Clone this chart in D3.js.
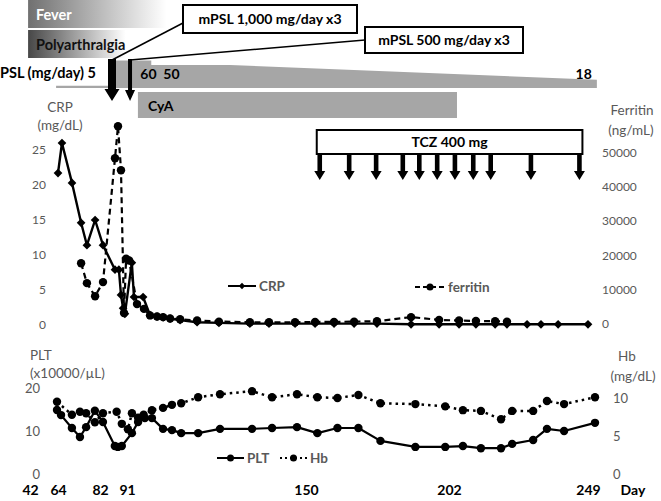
<!DOCTYPE html>
<html><head><meta charset="utf-8">
<script src="https://cdn.jsdelivr.net/npm/d3@7"></script>
<style>body{margin:0;background:#fff} svg{display:block;font-family:Lato,'Open Sans',sans-serif}</style>
</head><body><svg id="c" width="661" height="501"></svg>
<script>
// ---------- data ----------
const dayTicks = [42, 64, 82, 91, 150, 202, 249];
const crpTicks = [0, 5, 10, 15, 20, 25];
const ferTicks = [0, 10000, 20000, 30000, 40000, 50000];
const pltTicks = [0, 10, 20];
const hbTicks = [0, 5, 10];

const crpDays = [64, 65.7, 70, 73.9, 76.4, 79.9, 83, 87, 88.3, 89, 89.7, 90.3, 92.6, 93.3, 96.3, 98.6, 100.9, 102.9, 105.2, 108.5, 114.1, 121.3, 131.5, 137.8, 146.4, 153.3, 160.2, 167.5, 175.8, 188.2, 198.4, 205.4, 211.1, 217.6, 221.6, 228.4, 233.1, 238.9, 249];
const crpValues = [21.7, 26.0, 20.3, 14.6, 11.4, 15.0, 11.4, 7.9, 7.9, 4.3, 2.4, 1.6, 8.9, 4.0, 4.0, 1.4, 1.2, 1.1, 0.9, 0.7, 0.4, 0.3, 0.2, 0.2, 0.2, 0.2, 0.2, 0.2, 0.2, 0.1, 0.1, 0.1, 0.1, 0.1, 0.1, 0.1, 0.1, 0.1, 0.1];

const ferDays = [73.9, 76.4, 79.9, 83, 87, 88, 89, 90, 90.7, 91.7, 94.3, 96.6, 98.6, 100.9, 102.9, 105.2, 108.5, 114.1, 121.3, 131.5, 137.8, 146.4, 153.3, 160.2, 167.5, 175.8, 188.2, 198.4, 205.4, 211.1, 217.6, 221.6];
const ferValues = [17700, 11900, 8100, 12200, 48300, 57600, 44800, 3200, 19000, 18500, 5800, 4400, 2500, 2200, 2000, 1600, 1400, 1000, 700, 500, 500, 500, 600, 600, 700, 800, 2000, 1200, 1000, 900, 800, 700];

const pltDays = [64, 65.7, 70.3, 73.7, 76.3, 80, 83.1, 87, 88, 89.3, 92.6, 94.6, 96.8, 99.1, 102.7, 105.6, 108.6, 114.1, 121.2, 131.6, 138.1, 146.2, 153.1, 160.3, 167.8, 175.7, 188.2, 198.9, 205, 211, 217.7, 221.4, 228.4, 233, 238.7, 249];
const pltValues = [14.9, 13.7, 10.7, 8.6, 10.9, 14.7, 12.1, 6.5, 6.3, 6.5, 9.5, 12.1, 13.0, 13.0, 10.5, 10.2, 9.5, 9.5, 10.5, 10.5, 10.7, 10.9, 9.5, 10.7, 10.7, 7.7, 6.3, 6.3, 6.5, 6.0, 6.0, 7.0, 7.9, 10.5, 10.0, 11.9];

const hbDays = [64, 70.3, 73.7, 76.3, 80, 83.1, 87.6, 89.3, 91.3, 92.6, 94.6, 96.4, 99.1, 102.7, 105.6, 108.6, 114.1, 121.2, 131.6, 138.1, 146.2, 153.1, 160.3, 167.8, 175.7, 188.2, 198.9, 205, 211, 217.7, 221.4, 228.4, 233, 238.7, 249];
const hbValues = [9.5, 7.8, 8.2, 8.0, 6.8, 8.0, 8.2, 6.6, 5.9, 8.0, 7.4, 7.8, 8.4, 8.7, 9.1, 9.3, 10.1, 10.5, 10.9, 10.1, 10.5, 10.1, 10.0, 10.4, 9.3, 9.2, 8.9, 8.4, 8.3, 7.2, 8.3, 8.3, 9.6, 9.2, 10.1];

const symptomLabels = ["Fever", "Polyarthralgia"];
const symptomStart = [40.5, 40.5];
const symptomEnd = [104, 98.6];
const pslDays = [62.5, 87, 87, 99, 99, 125, 252];
const pslDoses = [5, 5, 60, 60, 50, 50, 18];
const cyaDays = [94.6, 204.7];
const mpslDays = [86, 92];
const mpslLabels = ["mPSL 1,000 mg/day x3", "mPSL 500 mg/day x3"];
const tczDays = [155, 165.7, 175.5, 185.2, 191.2, 197.7, 204, 210.2, 216.1, 229.7, 246.1];

// ---------- scales ----------
const svg = d3.select("#c");
svg.append("rect").attr("width", 661).attr("height", 501).attr("fill", "#fff");
const dayAnchors = [42, 64, 82, 91, 150, 202, 249];
const xTop = d3.scaleLinear().domain(dayAnchors).range([30, 58, 100, 127, 306, 449, 588]);
const xBot = d3.scaleLinear().domain(dayAnchors).range([28.6, 57, 99.6, 127, 308.7, 453.9, 595]);
const yCRP = d3.scaleLinear().domain([0, 30]).range([325, 115]);
const yFer = d3.scaleLinear().domain([0, 60000]).range([324, 118]);
const yPLT = d3.scaleLinear().domain([0, 25]).range([474, 366.5]);
const yHb = d3.scaleLinear().domain([0, 12]).range([474, 382.8]);
const yPSL = d3.scaleLinear().domain([0, 60]).range([88, 60.4]);

const grey = "#595959";
const zip = (a, b) => a.map((d, i) => ({ d, v: b[i] }));

// ---------- top annotations ----------
const defs = svg.append("defs");
const gradColors = [["#707070", 1.0], ["#474747", 0.8]];
gradColors.forEach((g, i) => {
  const lg = defs.append("linearGradient").attr("id", "g" + i);
  lg.append("stop").attr("offset", 0).attr("stop-color", g[0]);
  lg.append("stop").attr("offset", g[1]).attr("stop-color", "#fff");
});
symptomLabels.forEach((lab, i) => {
  const y0 = i === 0 ? 0 : 30;
  svg.append("rect").attr("x", xTop(symptomStart[i])).attr("y", y0)
    .attr("width", xTop(symptomEnd[i]) - xTop(symptomStart[i])).attr("height", 28)
    .attr("fill", `url(#g${i})`);
  svg.append("text").attr("x", 36).attr("y", y0 + 20).text(lab)
    .attr("font-size", 14.5).attr("font-weight", 700).attr("fill", i === 0 ? "#fff" : "#111");
});

// PSL
svg.append("text").attr("x", 0).attr("y", 78).text("PSL (mg/day) 5")
  .attr("font-size", 14.5).attr("font-weight", 700).attr("fill", "#000");
svg.append("path").datum(zip(pslDays, pslDoses))
  .attr("d", d3.area().x(p => xTop(p.d)).y0(yPSL(0)).y1(p => yPSL(p.v)))
  .attr("fill", "#a6a6a6");
svg.append("text").attr("x", xTop(pslDays[3]) - 11).attr("y", 79).text("60  50")
  .attr("font-size", 14).attr("font-weight", 700).attr("fill", "#000").attr("xml:space", "preserve");
svg.append("text").attr("x", xTop(pslDays[6]) - 5).attr("y", 79).attr("text-anchor", "end").text("18")
  .attr("font-size", 14).attr("font-weight", 700).attr("fill", "#000");

// CyA
svg.append("rect").attr("x", xTop(cyaDays[0])).attr("y", 92)
  .attr("width", xTop(cyaDays[1]) - xTop(cyaDays[0])).attr("height", 26).attr("fill", "#a6a6a6");
svg.append("text").attr("x", xTop(cyaDays[0]) + 10).attr("y", 111).text("CyA")
  .attr("font-size", 14).attr("font-weight", 700).attr("fill", "#000");

// mPSL boxes and arrows
const mBoxes = [{ x: 183, y: 5, w: 174, h: 28, lx: 183, ly: 23 }, { x: 365, y: 27, w: 158, h: 26, lx: 365, ly: 40 }];
mpslDays.forEach((d, i) => {
  const cx = xTop(d), b = mBoxes[i];
  svg.append("line").attr("x1", b.lx).attr("y1", b.ly).attr("x2", cx).attr("y2", 60)
    .attr("stroke", "#000").attr("stroke-width", 1.5);
  const sw = i === 0 ? 4 : 2, hw = i === 0 ? 7.5 : 5, hy = i === 0 ? 89 : 90;
  svg.append("path").attr("d", `M${cx - sw},59 L${cx + sw},59 L${cx + sw},${hy} L${cx + hw},${hy} L${cx},101 L${cx - hw},${hy} L${cx - sw},${hy} Z`)
    .attr("fill", "#000");
  svg.append("rect").attr("x", b.x).attr("y", b.y).attr("width", b.w).attr("height", b.h)
    .attr("fill", "#fff").attr("stroke", "#000").attr("stroke-width", 2);
  svg.append("text").attr("x", b.x + b.w / 2).attr("y", b.y + b.h / 2 + 5).attr("text-anchor", "middle")
    .text(mpslLabels[i]).attr("font-size", 14).attr("font-weight", 700).attr("fill", "#000");
});

// TCZ
const tx0 = xTop(tczDays[0]) - 3, tx1 = xTop(tczDays[tczDays.length - 1]) + 3;
svg.append("rect").attr("x", tx0).attr("y", 130).attr("width", tx1 - tx0).attr("height", 24)
  .attr("fill", "#fff").attr("stroke", "#000").attr("stroke-width", 2);
svg.append("text").attr("x", (tx0 + tx1) / 2).attr("y", 147).attr("text-anchor", "middle").text("TCZ 400 mg")
  .attr("font-size", 14).attr("font-weight", 700).attr("fill", "#000");
svg.selectAll(".tcz").data(tczDays).join("path")
  .attr("d", d => { const c = xTop(d); return `M${c - 2.3},154 L${c + 2.3},154 L${c + 2.3},171 L${c + 5.5},171 L${c},180 L${c - 5.5},171 L${c - 2.3},171 Z`; })
  .attr("fill", "#000");

// ---------- axes ----------
function styleAxis(g) {
  g.select(".domain").remove();
  g.selectAll("text").attr("fill", grey).attr("font-size", 12).attr("font-family", "Lato,'Open Sans',sans-serif");
}
svg.append("g").attr("transform", "translate(46,0)")
  .call(d3.axisLeft(yCRP).tickValues(crpTicks).tickSize(0).tickPadding(0)).call(styleAxis);
svg.append("g").attr("transform", "translate(602,0)")
  .call(d3.axisRight(yFer).tickValues(ferTicks).tickFormat(d3.format("d")).tickSize(0).tickPadding(0)).call(styleAxis);
svg.append("g").attr("transform", "translate(40,0)")
  .call(d3.axisLeft(yPLT).tickValues(pltTicks).tickSize(0).tickPadding(0)).call(styleAxis)
  .selectAll("text").attr("font-size", 13);
svg.append("g").attr("transform", "translate(613,0)")
  .call(d3.axisRight(yHb).tickValues(hbTicks).tickSize(0).tickPadding(0)).call(styleAxis)
  .selectAll("text").attr("font-size", 13);
const xa = svg.append("g").attr("transform", "translate(0,485)")
  .call(d3.axisBottom(xTop).tickValues(dayTicks).tickFormat(d3.format("d")).tickSize(0).tickPadding(0));
xa.select(".domain").remove();
xa.selectAll("text").attr("fill", "#000").attr("font-size", 14).attr("font-weight", 700).attr("font-family", "Lato,'Open Sans',sans-serif");
svg.append("text").attr("x", 633).attr("y", 495).attr("text-anchor", "middle").text("Day")
  .attr("font-size", 14).attr("font-weight", 700).attr("fill", "#000");

// axis titles
const title = (x, y, t, anchor) => svg.append("text").attr("x", x).attr("y", y).attr("text-anchor", anchor || "middle")
  .text(t).attr("font-size", 13.5).attr("fill", grey);
title(60, 112, "CRP"); title(60, 130, "(mg/dL)");
title(632, 115, "Ferritin"); title(631, 135, "(ng/mL)");
title(30, 360, "PLT", "start"); title(30, 378, "(x10000/\u00b5L)", "start");
title(627, 361, "Hb"); title(633, 381, "(mg/dL)");

// ---------- series ----------
const diamond = d3.symbol(d3.symbolSquare, 38);
function drawSeries(days, vals, xs, ys, dash, marker, width) {
  const data = zip(days, vals);
  svg.append("path").datum(data).attr("fill", "none").attr("stroke", "#000").attr("stroke-width", width)
    .attr("stroke-dasharray", dash).attr("stroke-linejoin", "round")
    .attr("d", d3.line().x(p => xs(p.d)).y(p => ys(p.v)));
  const g = svg.append("g");
  if (marker === "diamond") {
    g.selectAll("path").data(data).join("path").attr("d", diamond)
      .attr("transform", p => `translate(${xs(p.d)},${ys(p.v)}) rotate(45)`).attr("fill", "#000");
  } else {
    g.selectAll("circle").data(data).join("circle").attr("cx", p => xs(p.d)).attr("cy", p => ys(p.v))
      .attr("r", 4.2).attr("fill", "#000");
  }
}
drawSeries(ferDays, ferValues, xTop, yFer, "6,4", "circle", 2.2);
drawSeries(crpDays, crpValues, xTop, yCRP, null, "diamond", 2.4);
drawSeries(hbDays, hbValues, xBot, yHb, "2.5,4", "circle", 2.5);
drawSeries(pltDays, pltValues, xBot, yPLT, null, "circle", 2.2);

// ---------- legends ----------
function legend(x1, x2, y, dash, marker, label) {
  svg.append("line").attr("x1", x1).attr("x2", x2).attr("y1", y).attr("y2", y)
    .attr("stroke", "#000").attr("stroke-width", 2).attr("stroke-dasharray", dash);
  const cx = (x1 + x2) / 2;
  if (marker === "diamond") svg.append("path").attr("d", d3.symbol(d3.symbolSquare, 20)).attr("transform", `translate(${cx},${y}) rotate(45)`);
  else svg.append("circle").attr("cx", cx).attr("cy", y).attr("r", 3.5);
  svg.append("text").attr("x", x2 + 3).attr("y", y + 5).text(label)
    .attr("font-size", 13.5).attr("font-weight", 700).attr("fill", grey);
}
legend(228, 256, 286, null, "diamond", "CRP");
legend(415, 445, 287, "5,3", "circle", "ferritin");
legend(217, 244, 458, null, "circle", "PLT");
legend(280, 307, 458, "2,3", "circle", "Hb");
</script></body></html>
